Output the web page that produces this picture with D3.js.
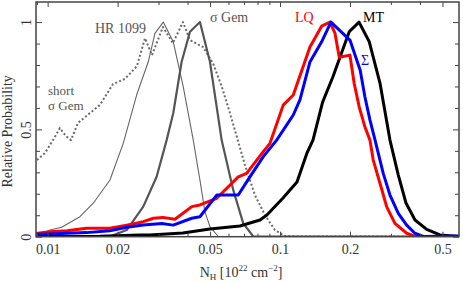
<!DOCTYPE html>
<html><head><meta charset="utf-8">
<script src="https://cdn.jsdelivr.net/npm/d3@7"></script>
<style>html,body{margin:0;padding:0;background:#fff}svg{display:block}</style>
</head><body>
<svg id="c" width="463" height="282"></svg>
<script>
// ---- data ----
const xTickMajor = [0.01, 0.02, 0.05, 0.1, 0.2, 0.5];
const xTickMinor = [0.009,0.03,0.04,0.06,0.07,0.08,0.09,0.3,0.4];
const xTickLabels = ["0.01","0.02","0.05","0.1","0.2","0.5"];
const yTickMajor = [0, 0.5, 1];
const yTickLabels = ["0","0.5","1"];
const yTickMinor = [0.1,0.2,0.3,0.4,0.6,0.7,0.8,0.9];

const mtN = [0.00891,0.0168,0.0249,0.0275,0.0382,0.0499,0.0672,0.0820,0.0878,0.1030,0.1183,0.1306,0.1386,0.1525,0.1689,0.1985,0.2187,0.2421,0.2692,0.2972,0.3228,0.3483,0.3809,0.4276,0.4877,0.589];
const mtP = [0.001,0.002,0.008,0.008,0.017,0.036,0.050,0.078,0.101,0.180,0.255,0.390,0.450,0.627,0.745,0.955,1.0,0.908,0.716,0.450,0.287,0.157,0.078,0.034,0.008,0.001];

const lqN = [0.0089,0.0102,0.0121,0.0147,0.0185,0.0219,0.0258,0.0285,0.0313,0.0353,0.0417,0.0452,0.0534,0.0599,0.0661,0.0718,0.0847,0.0905,0.1032,0.1140,0.1345,0.1510,0.1640,0.1723,0.1798,0.1999,0.2085,0.2191,0.2318,0.2437,0.2518,0.2692,0.2876,0.3121,0.3507,0.3805,0.589];
const lqP = [0.015,0.023,0.028,0.039,0.039,0.054,0.070,0.086,0.090,0.081,0.140,0.148,0.179,0.233,0.279,0.295,0.396,0.435,0.613,0.660,0.884,0.981,1.0,0.949,0.836,0.846,0.714,0.605,0.512,0.450,0.357,0.249,0.140,0.062,0.016,0.001,0.001];

const sigN = [0.0089,0.0102,0.0121,0.0147,0.0185,0.0219,0.0258,0.0310,0.0347,0.0417,0.0452,0.0534,0.0661,0.0742,0.0847,0.0967,0.1140,0.1218,0.1345,0.1510,0.1656,0.1999,0.2213,0.2318,0.2437,0.2564,0.2780,0.2972,0.3228,0.3507,0.3805,0.4131,0.589];
const sigP = [0.011,0.013,0.016,0.019,0.028,0.044,0.054,0.062,0.054,0.086,0.093,0.194,0.194,0.279,0.373,0.450,0.567,0.637,0.814,0.908,1.0,0.916,0.776,0.652,0.544,0.450,0.295,0.194,0.109,0.054,0.016,0.001,0.003];

const hrN = [0.00891,0.01023,0.01149,0.01377,0.01571,0.01854,0.02115,0.02415,0.02710,0.02896,0.03144,0.03471,0.03832,0.04233,0.04522,0.04752,0.04993,0.05421,0.589];
const hrP = [0.001,0.031,0.044,0.093,0.156,0.264,0.435,0.660,0.815,0.947,1.0,0.908,0.699,0.450,0.264,0.116,0.047,0.001,0.0];

const sgN = [0.00891,0.01854,0.02188,0.02579,0.02944,0.03251,0.03471,0.03772,0.04097,0.04522,0.04993,0.05607,0.06289,0.06946,0.07669,0.589];
const sgP = [0.0,0.001,0.031,0.140,0.279,0.450,0.575,0.815,0.955,1.0,0.815,0.450,0.218,0.062,0.001,0.0];

const shN = [0.0090,0.00974,0.01054,0.01129,0.01199,0.01260,0.01350,0.01521,0.01679,0.01910,0.02151,0.02423,0.02623,0.02811,0.03134,0.03460,0.03821,0.04097,0.04658,0.05144,0.05623,0.06086,0.06524,0.07063,0.07798,0.08610,0.09508,0.1050,0.1218,0.589];
const shP = [0.357,0.390,0.450,0.506,0.469,0.450,0.530,0.576,0.614,0.711,0.735,0.795,0.925,0.846,0.977,0.902,1.0,0.916,0.884,0.809,0.697,0.576,0.464,0.334,0.194,0.101,0.031,0.003,0.001,0.0];

// ---- chart ----
const svg = d3.select("#c");
const L = 36, R = 459, T = 2, B = 236.7;
const x = d3.scaleLog().domain([0.00891, 0.589]).range([L, R]);
const y = d3.scaleLinear().domain([0, 1.0935]).range([B, T]);
const font = "'Liberation Serif','Times New Roman',serif";

svg.append("defs").append("clipPath").attr("id","clip")
  .append("rect").attr("x",L).attr("y",T).attr("width",R-L).attr("height",B-T);

const line = d3.line().x(d => x(d[0])).y(d => y(d[1]));
const zip = (a,b) => a.map((v,i) => [v,b[i]]);
const g = svg.append("g").attr("clip-path","url(#clip)");

const series = [
  {n:shN, p:shP, c:"#6a6a6a", w:2, dash:"2,2.2"},
  {n:hrN, p:hrP, c:"#666", w:1.1},
  {n:sgN, p:sgP, c:"#555", w:2.2},
  {n:mtN, p:mtP, c:"#000", w:3},
  {n:lqN, p:lqP, c:"#ff0000", w:3},
  {n:sigN, p:sigP, c:"#0000ff", w:3}
];
series.forEach(s => {
  g.append("path").attr("d", line(zip(s.n,s.p)))
    .attr("fill","none").attr("stroke",s.c).attr("stroke-width",s.w)
    .attr("stroke-linejoin","round")
    .attr("stroke-dasharray", s.dash || null);
});

// axes
const axCol = "#444";
function styleAxis(sel){
  sel.attr("font-family",null);
  sel.select(".domain").remove();
  sel.selectAll("line").attr("stroke",axCol).attr("stroke-width",1);
  sel.selectAll("text").attr("fill","#333").style("font-family",font).style("font-size","14px");
}
const fmtX = v => xTickLabels[xTickMajor.indexOf(v)];
svg.append("g").attr("transform",`translate(0,${B})`)
  .call(d3.axisBottom(x).tickValues(xTickMajor).tickFormat(fmtX).tickSizeInner(-5).tickSizeOuter(0).tickPadding(7))
  .call(styleAxis);
svg.append("g").attr("transform",`translate(0,${B})`)
  .call(d3.axisBottom(x).tickValues(xTickMinor).tickFormat("").tickSizeInner(-3).tickSizeOuter(0))
  .call(styleAxis);
svg.append("g").attr("transform",`translate(0,${T})`)
  .call(d3.axisTop(x).tickValues(xTickMajor).tickFormat("").tickSizeInner(-5).tickSizeOuter(0))
  .call(styleAxis);
svg.append("g").attr("transform",`translate(0,${T})`)
  .call(d3.axisTop(x).tickValues(xTickMinor).tickFormat("").tickSizeInner(-3).tickSizeOuter(0))
  .call(styleAxis);

const fmtY = v => yTickLabels[yTickMajor.indexOf(v)];
const yl = svg.append("g").attr("transform",`translate(${L},0)`)
  .call(d3.axisLeft(y).tickValues(yTickMajor).tickFormat(fmtY).tickSizeInner(-6).tickSizeOuter(0).tickPadding(8))
  .call(styleAxis);
yl.selectAll("text").attr("text-anchor","middle").attr("dy",null).attr("x",null)
  .attr("transform","translate(-10,0) rotate(-90)").attr("dy","0.35em");
svg.append("g").attr("transform",`translate(${L},0)`)
  .call(d3.axisLeft(y).tickValues(yTickMinor).tickFormat("").tickSizeInner(-4).tickSizeOuter(0))
  .call(styleAxis);
svg.append("g").attr("transform",`translate(${R},0)`)
  .call(d3.axisRight(y).tickValues(yTickMajor).tickFormat("").tickSizeInner(-6).tickSizeOuter(0))
  .call(styleAxis);
svg.append("g").attr("transform",`translate(${R},0)`)
  .call(d3.axisRight(y).tickValues(yTickMinor).tickFormat("").tickSizeInner(-4).tickSizeOuter(0))
  .call(styleAxis);

svg.append("rect").attr("x",L).attr("y",T).attr("width",R-L).attr("height",B-T)
  .attr("fill","none").attr("stroke",axCol).attr("stroke-width",1.5);

// axis titles
svg.append("text").attr("transform",`translate(12,${(T+B)/2+12}) rotate(-90)`)
  .attr("text-anchor","middle").style("font-family",font).style("font-size","14px").attr("fill","#333")
  .text("Relative Probability");

const xt = svg.append("text").attr("x",241).attr("y",277).attr("text-anchor","middle")
  .style("font-family",font).style("font-size","14px").attr("fill","#333");
xt.append("tspan").text("N");
xt.append("tspan").attr("dy",3).style("font-size","9px").text("H");
xt.append("tspan").attr("dy",-3).text(" [10");
xt.append("tspan").attr("dy",-6).style("font-size","9px").text("22");
xt.append("tspan").attr("dy",6).text(" cm");
xt.append("tspan").attr("dy",-6).style("font-size","9px").text("\u22122");
xt.append("tspan").attr("dy",6).text("]");

// series labels
const lab = (tx,ty,t,c,fs) => svg.append("text").attr("x",tx).attr("y",ty)
  .style("font-family",font).style("font-size",(fs||14)+"px").attr("fill",c).text(t);
lab(95,33,"HR 1099","#555");
lab(210,22,"\u03c3 Gem","#555");
lab(48,95,"short","#555",13);
lab(48,110,"\u03c3 Gem","#555",13);
lab(295,22,"LQ","#ff0000");
lab(363,22,"MT","#000");
lab(361,65,"\u03a3","#0000ff");
</script>
</body></html>
